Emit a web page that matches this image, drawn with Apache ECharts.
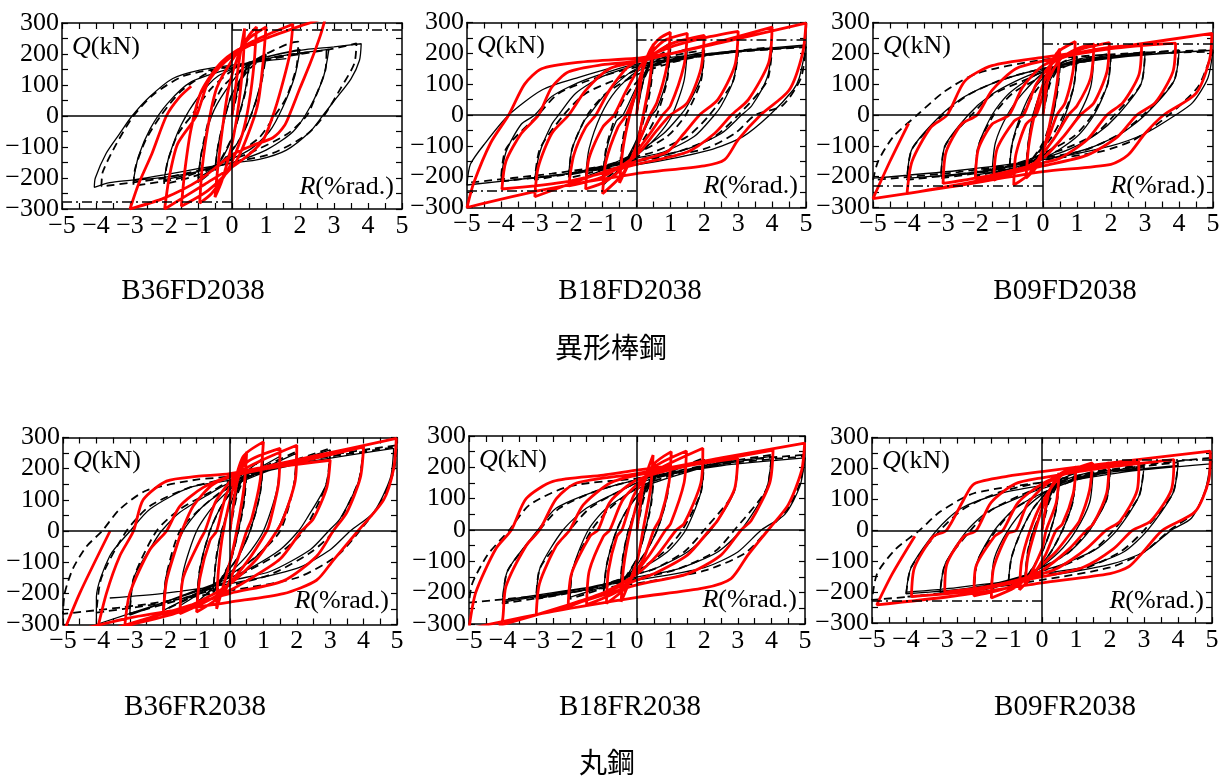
<!DOCTYPE html>
<html><head><meta charset="utf-8">
<script src="https://cdn.jsdelivr.net/npm/echarts/dist/echarts.min.js"></script>
<style>html,body{margin:0;background:#fff}#c{width:1227px;height:776px}</style>
</head><body><div id="c"></div><script>
// Shear force Q (kN) against drift angle R (%rad.) for six beam specimens.
const xTicks = [-5,-4,-3,-2,-1,0,1,2,3,4,5];
const yTicks = [-300,-200,-100,0,100,200,300];
const specimenNames = ['B36FD2038','B18FD2038','B09FD2038','B36FR2038','B18FR2038','B09FR2038'];
const groupNames = ['異形棒鋼','丸鋼'];
const yieldLevels = [278, 245, 230, null, null, 228];

// ---- B36FD2038 ----
const b36fdSolid = [[0,0],[0.25,120],[0.5,170],[0.4,90],[0.2,0],[0,-70],[-0.25,-130],[-0.5,-170],[-0.4,-90],[-0.2,0],[0,70],[0.5,160],[1.0,200],[0.85,110],[0.55,0],[0.2,-80],[-0.3,-150],[-1.0,-200],[-0.9,-120],[-0.6,0],[-0.2,80],[0.4,160],[1.0,190],[2.0,215],[1.85,130],[1.5,30],[1.1,-50],[0.5,-110],[-0.5,-160],[-1.5,-195],[-2.0,-205],[-1.85,-130],[-1.5,-30],[-1.0,60],[-0.4,130],[0.5,170],[1.5,195],[2.85,215],[2.7,130],[2.3,30],[1.8,-50],[1.0,-110],[0,-150],[-1.5,-190],[-2.9,-208],[-2.75,-130],[-2.4,-40],[-1.9,40],[-1.2,110],[0,155],[1.0,190],[2.0,212],[3.0,223],[3.8,233],[3.75,180],[3.5,120],[3.05,55],[2.66,0],[2.3,-50],[1.6,-110],[0.8,-140],[0,-152],[-1.0,-170],[-2.0,-190],[-2.9,-206],[-3.6,-215],[-4.05,-230],[-4.02,-200],[-3.7,-120],[-3.3,-56],[-2.94,0],[-2.42,62],[-1.74,121],[-0.95,148],[0,164],[1.0,178],[1.6,185]];
const b36fdDash = [[0,0],[0.25,110],[0.5,160],[0.4,80],[0.2,0],[0,-70],[-0.5,-175],[-0.4,-90],[-0.2,0],[0,70],[0.5,150],[1.0,195],[0.85,100],[0.55,0],[0.2,-80],[-0.4,-160],[-1.0,-215],[-0.9,-120],[-0.65,0],[-0.3,90],[0.4,160],[1.0,200],[1.7,235],[1.95,240],[1.9,160],[1.6,60],[1.25,0],[0.8,-70],[0,-130],[-1.0,-190],[-2.0,-220],[-1.9,-150],[-1.6,-60],[-1.2,0],[-0.6,90],[0.2,160],[1.2,185],[2.0,200],[2.78,213],[2.75,150],[2.45,60],[2.19,0],[1.6,-60],[0.5,-120],[-0.5,-160],[-1.5,-200],[-2.9,-225],[-2.85,-170],[-2.55,-80],[-2.1,0],[-1.5,80],[-0.7,140],[0,160],[1.5,195],[2.78,213],[3.66,234],[3.6,170],[3.2,90],[2.7,0],[2.2,-60],[1.2,-120],[0,-150],[-2.0,-200],[-3.84,-227],[-3.8,-180],[-3.4,-90],[-2.9,0],[-2.3,70],[-1.4,130],[0,160]];
const b36fdRed = [[0,0],[0.2,170],[0.37,282],[0.33,180],[0.2,40],[0,-90],[-0.3,-210],[-0.5,-262],[-0.42,-170],[-0.28,-40],[-0.1,90],[0.2,200],[0.5,260],[0.72,287],[0.65,170],[0.5,40],[0.3,-60],[-0.1,-170],[-0.6,-250],[-0.95,-281],[-0.88,-170],[-0.7,-30],[-0.45,90],[0,180],[0.5,250],[1.0,287],[0.92,180],[0.78,50],[0.57,-30],[0.1,-150],[-0.7,-240],[-1.49,-291],[-1.38,-170],[-1.2,-40],[-0.9,80],[-0.3,175],[0.6,240],[1.79,296],[1.7,200],[1.45,90],[1.2,0],[0.9,-80],[0.2,-150],[-0.8,-220],[-1.98,-300],[-1.85,-200],[-1.6,-90],[-1.05,0],[-0.7,110],[-0.2,175],[0.3,215],[1.0,250],[2.0,290],[2.75,317],[2.6,260],[2.3,170],[2.0,90],[1.75,20],[1.55,-30],[1.2,-70],[0.6,-95],[0,-125],[-0.95,-206],[-2.0,-265],[-3.0,-300],[-2.75,-220],[-2.35,-120],[-1.93,0],[-1.55,60],[-1.2,96]];

// ---- B18FD2038 ----
const b18fdSolid = [[0,0],[0.25,130],[0.5,190],[0.4,90],[0.2,0],[0,-80],[-0.5,-185],[-0.4,-90],[-0.2,0],[0.1,100],[0.5,190],[1.0,235],[0.9,120],[0.6,20],[0.45,0],[0.1,-80],[-0.4,-160],[-1.0,-230],[-0.9,-120],[-0.6,-20],[-0.4,0],[0,90],[0.5,170],[1.5,215],[1.4,110],[1.05,0],[0.6,-70],[0,-130],[-0.8,-170],[-1.5,-200],[-1.4,-110],[-1.05,0],[-0.6,80],[0,140],[1.0,180],[2.0,205],[1.9,120],[1.5,30],[1.3,0],[0.8,-60],[0,-120],[-1.0,-170],[-2.0,-195],[-1.9,-110],[-1.55,-20],[-1.4,0],[-0.9,70],[0,150],[1.5,185],[3.0,205],[2.85,110],[2.5,30],[2.3,0],[1.7,-70],[0.8,-120],[0,-140],[-1.5,-180],[-3.0,-205],[-2.85,-120],[-2.5,-30],[-2.3,0],[-1.8,70],[-1.0,125],[0,160],[2.0,195],[4.0,215],[3.85,120],[3.4,30],[3.1,0],[2.5,-60],[1.5,-110],[0,-150],[-2.0,-190],[-4.0,-215],[-3.85,-120],[-3.4,-30],[-3.0,0],[-2.5,60],[-1.5,115],[0,165],[2.5,200],[5.0,222],[4.8,120],[4.62,81],[3.93,0],[3.14,-70],[2.15,-114],[0,-162],[-2.79,-200],[-5.0,-227],[-4.9,-160],[-4.47,-92],[-3.77,0],[-2.79,81],[-1.8,119],[0,173],[2.15,200],[5.0,227]];
const b18fdDash = [[0,0],[0.2,110],[0.5,180],[0.42,90],[0.25,0],[0,-90],[-0.5,-180],[-0.42,-90],[-0.25,0],[0.1,100],[0.5,180],[1.0,215],[0.9,110],[0.6,0],[0.2,-80],[-0.4,-160],[-1.0,-215],[-0.9,-110],[-0.6,0],[-0.2,80],[0.5,160],[1.0,190],[2.0,210],[1.9,110],[1.45,0],[0.9,-70],[0,-125],[-1.0,-175],[-2.0,-205],[-1.9,-110],[-1.45,0],[-0.9,70],[0,130],[1.2,175],[3.0,210],[2.85,110],[2.15,0],[1.5,-70],[0.5,-120],[0,-135],[-1.5,-180],[-3.0,-210],[-2.85,-110],[-2.15,0],[-1.5,70],[-0.5,120],[0,145],[2.0,195],[4.0,220],[3.85,110],[3.0,0],[2.3,-70],[1.2,-120],[0,-145],[-2.0,-190],[-4.0,-215],[-3.85,-110],[-2.9,0],[-2.3,70],[-1.2,120],[0,155],[2.5,200],[5.0,220],[4.85,120],[4.3,30],[3.5,0],[2.9,-60],[2.0,-110],[0,-150],[-2.5,-190],[-5.0,-220]];
const b18fdRed = [[0,0],[0.2,150],[0.5,230],[0.4,120],[0.2,0],[0,-100],[-0.5,-220],[-0.4,-110],[-0.2,0],[0.1,120],[0.4,210],[0.7,250],[1.0,268],[0.9,160],[0.6,40],[0.4,0],[0.1,-80],[-0.4,-190],[-1.0,-255],[-0.9,-150],[-0.55,-40],[-0.3,0],[0,80],[0.3,180],[0.8,240],[1.5,265],[1.4,160],[1.0,30],[0.77,0],[0.4,-60],[-0.3,-160],[-0.9,-215],[-1.5,-240],[-1.4,-140],[-1.0,-40],[-0.66,0],[-0.3,80],[0.2,170],[1.0,230],[2.0,258],[1.9,150],[1.5,40],[1.0,0],[0.6,-50],[0,-130],[-1.0,-200],[-2.0,-230],[-1.85,-130],[-1.5,-40],[-1.2,0],[-0.8,80],[-0.2,160],[1.0,220],[2.0,250],[3.0,271],[2.9,160],[2.4,50],[1.86,0],[1.4,-60],[0.9,-120],[0,-150],[-1.5,-205],[-3.0,-265],[-2.9,-170],[-2.5,-60],[-2.0,0],[-1.5,80],[-0.8,150],[0,172],[2.0,225],[4.0,285],[3.9,170],[3.3,50],[2.8,0],[2.3,-60],[1.5,-120],[0,-160],[-2.0,-215],[-3.97,-240],[-3.85,-150],[-3.4,-60],[-2.89,0],[-2.5,90],[-2.0,140],[-1.0,163],[0,175],[2.5,235],[5.0,298],[4.9,200],[4.5,80],[3.66,0],[3.0,-80],[2.6,-145],[2.0,-165],[0,-190],[-2.8,-244],[-5.0,-300],[-4.8,-220],[-4.3,-90],[-3.77,0],[-3.3,100],[-2.8,150],[-1.8,170],[0,184],[1.0,200]];

// ---- B09FD2038 ----
const b09fdSolid = [[0,0],[0.2,110],[0.5,165],[0.42,80],[0.3,0],[0.05,-90],[-0.5,-165],[-0.42,-80],[-0.3,0],[0,90],[0.4,160],[1.0,185],[0.9,90],[0.65,0],[0.3,-80],[-0.3,-150],[-1.0,-185],[-0.9,-90],[-0.65,0],[-0.3,80],[0.3,150],[1.0,180],[1.5,190],[1.4,90],[1.05,0],[0.6,-70],[0,-130],[-0.8,-170],[-1.5,-190],[-1.4,-90],[-1.05,0],[-0.6,70],[0,135],[0.8,170],[2.0,195],[1.9,100],[1.5,0],[1.0,-70],[0.2,-130],[-1.0,-175],[-2.0,-195],[-1.9,-100],[-1.5,0],[-1.0,70],[-0.2,130],[1.0,175],[3.0,200],[2.88,100],[2.2,0],[1.6,-60],[0.8,-110],[0,-140],[-1.5,-180],[-3.0,-200],[-2.88,-100],[-2.2,0],[-1.6,60],[-0.8,110],[0,145],[1.5,180],[4.0,205],[3.85,110],[3.0,0],[2.3,-60],[1.3,-110],[0,-145],[-2.0,-185],[-4.0,-205],[-3.85,-110],[-3.0,0],[-2.3,60],[-1.3,110],[0,150],[2.5,190],[5.0,210],[4.85,120],[4.4,40],[3.9,0],[3.0,-60],[2.0,-100],[0,-145],[-2.5,-180],[-5.0,-205]];
const b09fdDash = [[0,0],[0.2,100],[0.5,160],[0.42,70],[0.28,0],[0,-90],[-0.5,-170],[-0.42,-80],[-0.28,0],[0,90],[0.5,165],[1.0,190],[0.9,90],[0.6,0],[0.2,-80],[-0.4,-150],[-1.0,-190],[-0.9,-90],[-0.6,0],[-0.2,80],[0.5,160],[2.0,200],[1.9,100],[1.45,0],[0.9,-70],[0,-125],[-1.0,-170],[-2.0,-200],[-1.9,-100],[-1.45,0],[-0.9,70],[0,125],[1.0,170],[3.0,205],[2.88,100],[2.1,0],[1.5,-65],[0.5,-115],[0,-130],[-1.5,-180],[-3.0,-205],[-2.88,-100],[-2.1,0],[-1.5,65],[-0.5,115],[0,140],[2.0,190],[4.0,210],[3.85,110],[2.95,0],[2.2,-65],[1.2,-115],[0,-140],[-2.0,-185],[-4.0,-210],[-3.85,-110],[-2.95,0],[-2.2,65],[-1.2,115],[0,150],[2.5,195],[5.0,205],[4.9,179],[4.55,90],[3.7,0],[2.67,-81],[1.69,-119],[0,-146],[-2.5,-185],[-5.0,-211],[-4.85,-150],[-4.4,-70],[-3.7,0],[-2.9,76],[-1.94,135],[0,179],[2.5,200],[5.0,211]];
const b09fdRed = [[0,0],[0.15,120],[0.3,180],[0.5,215],[0.42,110],[0.25,0],[0.05,-100],[-0.2,-170],[-0.5,-205],[-0.42,-100],[-0.25,0],[0,100],[0.4,200],[0.95,238],[0.88,140],[0.65,40],[0.41,0],[0.1,-90],[-0.4,-190],[-0.86,-227],[-0.8,-130],[-0.5,-30],[-0.2,0],[0.1,100],[0.5,180],[1.0,215],[1.5,230],[1.4,120],[1.0,30],[0.75,0],[0.3,-80],[-0.3,-160],[-1.45,-211],[-1.35,-110],[-0.85,-20],[-0.57,0],[-0.2,100],[0.3,170],[1.0,210],[1.95,235],[1.88,140],[1.5,40],[1.1,0],[0.6,-70],[0,-140],[-1.0,-190],[-1.99,-206],[-1.9,-110],[-1.5,-30],[-1.0,0],[-0.6,90],[0,160],[1.0,200],[2.0,220],[2.9,227],[2.82,130],[2.35,40],[1.88,0],[1.3,-80],[0.5,-140],[0,-155],[-1.5,-195],[-2.94,-222],[-2.85,-120],[-2.4,-30],[-1.94,0],[-1.5,80],[-0.8,150],[0,175],[2.0,215],[3.9,233],[3.82,140],[3.3,40],[2.76,0],[2.2,-70],[1.3,-130],[0,-165],[-2.0,-215],[-4.0,-255],[-3.85,-150],[-3.3,-40],[-2.82,0],[-2.3,110],[-1.5,160],[0,187],[2.5,225],[4.97,265],[4.9,180],[4.5,70],[3.55,0],[3.0,-60],[2.5,-130],[2.0,-160],[0,-184],[-2.73,-233],[-5.0,-271],[-4.5,-150],[-3.95,-27]];

// ---- B36FR2038 ----
const b36frSolid = [[0,0],[0.2,120],[0.5,200],[0.42,100],[0.25,0],[0,-100],[-0.5,-200],[-0.42,-100],[-0.25,0],[0.1,110],[0.5,190],[1.0,230],[0.9,120],[0.6,0],[0.2,-90],[-0.4,-170],[-1.0,-230],[-0.9,-120],[-0.6,0],[-0.2,90],[0.4,170],[1.0,210],[1.5,240],[1.4,130],[1.0,0],[0.5,-80],[-0.2,-150],[-1.5,-240],[-1.4,-130],[-1.0,0],[-0.5,80],[0.2,150],[1.0,200],[2.0,250],[1.9,140],[1.4,0],[0.8,-80],[0,-140],[-1.0,-200],[-2.0,-255],[-1.9,-140],[-1.4,0],[-0.8,80],[0,140],[1.2,195],[3.0,260],[2.88,150],[2.3,40],[2.05,0],[1.5,-60],[0.6,-120],[0,-150],[-1.5,-210],[-3.0,-270],[-2.88,-150],[-2.3,-40],[-2.05,0],[-1.5,60],[-0.6,120],[0,155],[1.5,205],[4.0,270],[3.85,160],[3.3,40],[2.95,0],[2.4,-60],[1.2,-130],[0,-160],[-2.0,-230],[-4.0,-300],[-4.0,-212],[-3.6,-80],[-2.99,0],[-2.4,70],[-1.2,140],[0,163],[2.0,215],[4.9,265],[4.8,170],[4.3,60],[3.6,0],[3.0,-60],[2.0,-120],[0,-169],[-2.0,-200],[-3.6,-215]];
const b36frDash = [[0,0],[0.2,110],[0.5,190],[0.42,90],[0.25,0],[0,-100],[-0.5,-195],[-0.42,-90],[-0.25,0],[0.1,110],[0.5,185],[1.0,235],[0.9,120],[0.6,0],[0.2,-90],[-0.4,-170],[-1.0,-235],[-0.9,-120],[-0.6,0],[-0.2,90],[0.5,175],[2.0,255],[1.9,140],[1.5,0],[0.8,-80],[0,-145],[-1.0,-205],[-2.0,-255],[-1.9,-140],[-1.5,0],[-0.8,80],[0,145],[1.2,200],[3.0,265],[2.88,150],[2.2,0],[1.5,-70],[0.5,-130],[0,-160],[-1.5,-220],[-3.0,-265],[-2.88,-150],[-2.2,0],[-1.5,70],[-0.5,130],[0,160],[2.0,225],[4.0,272],[3.85,160],[3.1,0],[2.4,-70],[1.2,-140],[0,-175],[-2.0,-230],[-4.0,-262],[-3.85,-150],[-3.1,0],[-2.4,80],[-1.2,140],[0,170],[2.5,235],[5.0,275],[4.9,190],[4.5,90],[3.88,0],[3.2,-80],[2.0,-150],[0,-191],[-2.5,-235],[-5.0,-266],[-4.95,-200],[-4.7,-120],[-4.3,-50],[-3.83,0],[-3.3,70],[-2.5,130],[-1.0,165],[0,175],[2.5,230],[5.0,270]];
const b36frRed = [[0,0],[0.2,150],[0.5,254],[0.42,140],[0.2,0],[0,-100],[-0.4,-250],[-0.35,-130],[-0.2,0],[0.1,140],[0.4,240],[1.0,286],[0.9,160],[0.65,40],[0.5,0],[0.2,-100],[-0.2,-200],[-1.0,-260],[-0.9,-150],[-0.6,-30],[-0.4,0],[-0.1,120],[0.5,220],[1.5,265],[1.45,150],[1.2,30],[1.1,0],[0.5,-100],[-0.3,-200],[-1.5,-265],[-1.4,-150],[-0.9,-30],[-0.75,0],[-0.4,100],[0.3,190],[2.0,275],[1.95,160],[1.6,40],[1.4,0],[0.8,-90],[0,-170],[-1.0,-230],[-2.0,-271],[-1.9,-160],[-1.6,-50],[-1.44,0],[-1.1,80],[-0.5,150],[0.5,190],[3.0,227],[2.9,140],[2.5,40],[2.14,0],[1.5,-90],[0.5,-160],[0,-190],[-1.5,-260],[-3.15,-305],[-3.0,-200],[-2.4,-60],[-1.9,0],[-1.5,80],[-0.8,140],[0,175],[2.0,220],[4.0,270],[3.9,170],[3.5,60],[3.09,0],[2.6,-80],[1.6,-160],[0,-200],[-2.0,-265],[-4.0,-330],[-3.7,-200],[-3.3,-80],[-2.89,0],[-2.6,100],[-1.9,160],[-1.0,175],[0,184],[2.5,240],[4.98,297],[4.9,200],[4.6,100],[3.83,0],[3.09,-94],[2.59,-158],[1.6,-201],[0,-228],[-2.89,-276],[-5.0,-330],[-4.5,-200],[-3.59,0]];

// ---- B18FR2038 ----
const b18frSolid = [[0,0],[0.2,110],[0.5,180],[0.42,90],[0.25,0],[0,-90],[-0.5,-180],[-0.42,-90],[-0.25,0],[0.1,100],[0.5,175],[1.0,210],[0.9,110],[0.6,0],[0.2,-80],[-0.4,-160],[-1.0,-205],[-0.9,-110],[-0.6,0],[-0.2,80],[0.5,160],[2.0,225],[1.9,120],[1.45,0],[0.9,-70],[0,-130],[-1.0,-180],[-2.0,-215],[-1.9,-120],[-1.45,0],[-0.9,70],[0,130],[1.2,175],[3.0,230],[2.88,120],[2.2,0],[1.5,-70],[0.5,-125],[0,-140],[-1.5,-190],[-3.0,-215],[-2.88,-120],[-2.2,0],[-1.5,70],[-0.5,125],[0,150],[2.0,200],[4.0,235],[3.85,130],[3.1,0],[2.4,-70],[1.2,-125],[0,-150],[-2.0,-195],[-4.0,-230],[-3.85,-130],[-2.95,0],[-2.4,70],[-1.2,125],[0,160],[2.5,205],[5.0,230],[4.85,140],[4.4,50],[3.7,0],[3.0,-70],[2.0,-120],[0,-160],[-2.5,-200],[-4.0,-225]];
const b18frDash = [[0,0],[0.2,100],[0.5,170],[0.42,80],[0.25,0],[0,-90],[-0.5,-175],[-0.42,-85],[-0.25,0],[0.1,100],[0.5,170],[1.0,215],[0.9,110],[0.6,0],[0.2,-80],[-0.4,-160],[-1.0,-210],[-0.9,-110],[-0.6,0],[-0.2,80],[0.5,160],[2.0,230],[1.9,120],[1.35,0],[0.8,-70],[0,-130],[-1.0,-185],[-2.0,-220],[-1.9,-120],[-1.35,0],[-0.8,70],[0,135],[1.2,180],[3.0,235],[2.88,120],[2.0,0],[1.4,-70],[0.5,-125],[0,-140],[-1.5,-190],[-3.0,-220],[-2.88,-120],[-2.0,0],[-1.4,70],[-0.5,125],[0,150],[2.0,205],[4.0,240],[3.85,130],[2.9,0],[2.3,-70],[1.2,-125],[0,-155],[-2.0,-200],[-4.0,-235],[-3.85,-130],[-2.9,0],[-2.3,70],[-1.2,125],[0,160],[2.5,215],[5.0,240],[4.85,150],[4.5,70],[3.9,0],[3.2,-75],[2.0,-130],[0,-170],[-2.5,-205],[-5.0,-232],[-4.9,-170],[-4.45,-80],[-3.8,0],[-3.2,80],[-2.0,140],[0,165],[2.5,210],[5.0,235]];
const b18frRed = [[0,0],[0.2,150],[0.48,239],[0.4,130],[0.18,0],[0,-100],[-0.47,-229],[-0.4,-120],[-0.2,0],[0.1,120],[0.5,210],[1.02,250],[0.95,150],[0.7,40],[0.5,0],[0.2,-90],[-0.4,-190],[-0.91,-234],[-0.85,-130],[-0.6,-20],[-0.45,0],[-0.1,110],[0.5,200],[1.47,252],[1.4,150],[1.0,20],[0.85,0],[0.3,-90],[-0.5,-190],[-1.5,-238],[-1.42,-130],[-1.0,-20],[-0.81,0],[-0.4,100],[0.4,180],[1.96,261],[1.9,150],[1.4,20],[1.17,0],[0.6,-80],[0,-140],[-1.0,-200],[-2.05,-245],[-1.95,-140],[-1.4,-20],[-1.16,0],[-0.8,90],[0,160],[1.5,205],[3.0,229],[2.9,130],[2.4,30],[2.16,0],[1.5,-80],[0.5,-140],[0,-160],[-1.5,-220],[-3.0,-271],[-2.9,-170],[-2.4,-50],[-2.0,0],[-1.6,80],[-0.8,150],[0,175],[2.0,215],[4.05,255],[3.95,150],[3.4,30],[3.1,0],[2.5,-80],[1.5,-140],[0,-175],[-2.0,-240],[-4.1,-305],[-4.0,-287],[-3.9,-180],[-3.3,-50],[-2.9,0],[-2.4,100],[-1.8,150],[0,180],[2.5,230],[4.99,277],[4.9,190],[4.5,80],[3.9,0],[3.3,-80],[2.8,-155],[2.0,-185],[0,-215],[-2.5,-260],[-5.0,-315],[-4.8,-200],[-4.2,-60],[-3.74,0],[-3.3,100],[-2.5,155],[-1.0,175],[0,191],[1.0,205]];

// ---- B09FR2038 ----
const b09frSolid = [[0,0],[0.2,100],[0.5,160],[0.42,70],[0.25,0],[0,-70],[-0.5,-160],[-0.42,-70],[-0.25,0],[0.1,90],[0.5,160],[1.0,185],[0.9,90],[0.6,0],[0.2,-80],[-0.4,-150],[-1.0,-180],[-0.9,-90],[-0.6,0],[-0.2,80],[0.5,155],[1.5,190],[1.4,90],[1.0,0],[0.5,-70],[-0.2,-130],[-1.5,-190],[-1.4,-90],[-1.0,0],[-0.5,70],[0.2,130],[1.0,170],[2.0,195],[1.9,100],[1.4,0],[0.8,-70],[0,-120],[-1.0,-170],[-2.0,-195],[-1.9,-100],[-1.4,0],[-0.8,70],[0,120],[1.2,170],[3.0,205],[2.85,110],[2.2,0],[1.6,-60],[0.6,-110],[0,-130],[-1.5,-175],[-3.0,-200],[-2.85,-110],[-2.2,0],[-1.6,60],[-0.6,110],[0,135],[1.5,180],[4.0,210],[3.85,120],[3.1,0],[2.4,-70],[1.2,-120],[0,-140],[-2.0,-185],[-4.0,-205],[-3.85,-120],[-3.1,0],[-2.4,70],[-1.2,120],[0,145],[2.5,190],[4.95,215],[4.8,130],[4.4,40],[3.8,0],[3.0,-70],[2.0,-110],[0,-150],[-2.5,-185],[-4.0,-200]];
const b09frDash = [[0,0],[0.2,90],[0.5,155],[0.42,70],[0.25,0],[0,-70],[-0.5,-160],[-0.42,-70],[-0.25,0],[0.1,90],[0.5,160],[1.0,190],[0.9,90],[0.6,0],[0.2,-80],[-0.4,-150],[-1.0,-185],[-0.9,-90],[-0.6,0],[-0.2,80],[0.5,155],[2.0,200],[1.9,100],[1.35,0],[0.8,-70],[0,-120],[-1.0,-170],[-2.0,-200],[-1.9,-100],[-1.35,0],[-0.8,70],[0,120],[1.2,170],[3.0,210],[2.85,110],[2.1,0],[1.5,-65],[0.6,-115],[0,-130],[-1.5,-180],[-3.0,-205],[-2.85,-110],[-2.1,0],[-1.5,65],[-0.6,115],[0,140],[1.5,185],[4.0,220],[3.85,120],[3.0,0],[2.3,-70],[1.2,-125],[0,-145],[-2.0,-190],[-4.0,-215],[-3.85,-120],[-3.0,0],[-2.3,70],[-1.2,125],[0,155],[2.5,205],[5.0,235],[4.85,140],[4.5,60],[3.75,0],[3.0,-70],[2.0,-120],[0,-160],[-2.5,-200],[-5.0,-225],[-4.85,-140],[-4.3,-60],[-3.6,0],[-3.0,60],[-2.0,120],[0,155]];
const b09frRed = [[0,0],[0.2,120],[0.5,185],[0.42,90],[0.12,0],[0,-60],[-0.5,-180],[-0.42,-90],[-0.2,0],[0.1,100],[0.5,180],[1.0,205],[0.92,120],[0.6,20],[0.41,0],[0.1,-80],[-0.3,-150],[-0.66,-192],[-0.6,-100],[-0.35,0],[0,90],[0.6,180],[1.48,218],[1.4,130],[1.1,30],[0.9,0],[0.4,-70],[-0.3,-140],[-0.8,-185],[-1.49,-219],[-1.42,-120],[-1.0,-10],[-0.76,0],[-0.4,90],[0.4,170],[1.97,218],[1.9,120],[1.5,20],[1.3,0],[0.8,-60],[0,-130],[-1.0,-185],[-2.0,-212],[-1.95,-120],[-1.4,-20],[-1.15,0],[-0.7,90],[0,150],[1.0,195],[2.85,223],[2.8,130],[2.3,30],[1.88,0],[1.3,-60],[0.5,-120],[0,-140],[-1.5,-180],[-2.86,-200],[-2.8,-110],[-2.3,-20],[-1.93,0],[-1.5,90],[-0.8,150],[0,170],[2.0,205],[3.88,229],[3.8,130],[3.2,30],[2.66,0],[2.1,-60],[1.2,-120],[0,-150],[-2.0,-195],[-3.84,-214],[-3.75,-120],[-3.2,-20],[-2.81,0],[-2.3,100],[-2.0,150],[-1.0,175],[0,190],[2.5,225],[4.95,256],[4.9,160],[4.5,60],[3.54,0],[2.95,-73],[2.56,-117],[2.0,-140],[0,-170],[-2.7,-214],[-4.86,-241],[-4.4,-140],[-3.74,-19]];

const solidSets = [b36fdSolid, b18fdSolid, b09fdSolid, b36frSolid, b18frSolid, b09frSolid];
const dashSets = [b36fdDash, b18fdDash, b09fdDash, b36frDash, b18frDash, b09frDash];
const redSets = [b36fdRed, b18fdRed, b09fdRed, b36frRed, b18frRed, b09frRed];

// plot frames for the 2 x 3 layout
const frames = [
  {left:62, top:23, width:340, height:186},
  {left:467, top:22.5, width:339, height:185},
  {left:873, top:22.5, width:340, height:185},
  {left:63, top:437.5, width:334, height:187},
  {left:469, top:436, width:336, height:188},
  {left:872, top:437.6, width:340, height:185.5}
];
const titlePos = [[193,291],[630,291],[1065,291],[195,707],[630,707],[1065,707]];
const groupPos = [[611,347],[607,762]];

const SERIF = 'Liberation Serif';
const minus = v => String(v).replace('-', '\u2212');
const tickStyle = {show:true, inside:true, length:6, lineStyle:{color:'#000', width:1.2}};
const minorStyle = {show:true, splitNumber:2, length:6, lineStyle:{color:'#000', width:1.2}};
const lineStyleAxis = {show:true, onZero:false, lineStyle:{color:'#000', width:1.5}};

const chart = echarts.init(document.getElementById('c'), null, {renderer:'canvas'});
const grid = [], xAxis = [], yAxis = [], series = [], graphic = [];

frames.forEach((f, i) => {
  grid.push(Object.assign({containLabel:false}, f));
  const xBase = {type:'value', gridIndex:i, min:xTicks[0], max:xTicks[xTicks.length-1], interval:1,
    axisLine:lineStyleAxis, axisTick:tickStyle, minorTick:minorStyle, splitLine:{show:false}};
  const yBase = {type:'value', gridIndex:i, min:yTicks[0], max:yTicks[yTicks.length-1], interval:100,
    axisLine:lineStyleAxis, axisTick:tickStyle, minorTick:minorStyle, splitLine:{show:false}};
  xAxis.push(Object.assign({}, xBase, {position:'bottom',
    axisLabel:{show:true, margin:4, color:'#000', fontFamily:SERIF, fontSize:26, formatter:minus}}));
  xAxis.push(Object.assign({}, xBase, {position:'top', axisLabel:{show:false}}));
  yAxis.push(Object.assign({}, yBase, {position:'left',
    axisLabel:{show:true, margin:3, color:'#000', fontFamily:SERIF, fontSize:26, formatter:minus}}));
  yAxis.push(Object.assign({}, yBase, {position:'right', axisLabel:{show:false}}));
  const xi = 2*i, yi = 2*i;

  const marks = [{xAxis:0}, {yAxis:0}];
  series.push({type:'line', xAxisIndex:xi, yAxisIndex:yi, data:solidSets[i], showSymbol:false, smooth:0.25,
    lineStyle:{color:'#000', width:1.3}, silent:true, z:2,
    markLine:{silent:true, symbol:'none', label:{show:false}, lineStyle:{color:'#000', width:1.5, type:'solid'}, data:marks, animation:false}});
  series.push({type:'line', xAxisIndex:xi, yAxisIndex:yi, data:dashSets[i], showSymbol:false, smooth:0.25,
    lineStyle:{color:'#000', width:1.8, type:[8,5]}, silent:true, z:3});
  const lvl = yieldLevels[i];
  const redSeries = {type:'line', xAxisIndex:xi, yAxisIndex:yi, data:redSets[i], showSymbol:false, smooth:0.25,
    lineStyle:{color:'#ff0000', width:2.8}, silent:true, z:4};
  if (lvl !== null) {
    redSeries.markLine = {silent:true, symbol:'none', label:{show:false}, animation:false,
      lineStyle:{color:'#000', width:1.5, type:[10,4,2,4]},
      data:[[{coord:[0, lvl]}, {coord:[5, lvl]}], [{coord:[-5, -lvl]}, {coord:[0, -lvl]}]]};
  }
  series.push(redSeries);

  graphic.push({type:'text', x:f.left + 10, y:f.top + 24, z:10, style:{
    text:'{i|Q}(kN)', fill:'#000', font:'26px "' + SERIF + '"', verticalAlign:'middle', align:'left',
    rich:{i:{fontStyle:'italic', fontFamily:SERIF, fontSize:26}}}});
  graphic.push({type:'text', x:f.left + f.width - 8, y:f.top + 164, z:10, style:{
    text:'{i|R}(%rad.)', fill:'#000', font:'26px "' + SERIF + '"', verticalAlign:'middle', align:'right',
    rich:{i:{fontStyle:'italic', fontFamily:SERIF, fontSize:26}}}});
  graphic.push({type:'text', x:titlePos[i][0], y:titlePos[i][1], style:{
    text:specimenNames[i], fill:'#000', font:'29px "' + SERIF + '"', align:'center', verticalAlign:'middle'}});
});
groupNames.forEach((g, k) => {
  graphic.push({type:'text', x:groupPos[k][0], y:groupPos[k][1], style:{
    text:g, fill:'#000', font:'28px "Noto Sans CJK JP"', align:'center', verticalAlign:'middle'}});
});

chart.setOption({animation:false, backgroundColor:'#fff', grid, xAxis, yAxis, series, graphic});
</script></body></html>
